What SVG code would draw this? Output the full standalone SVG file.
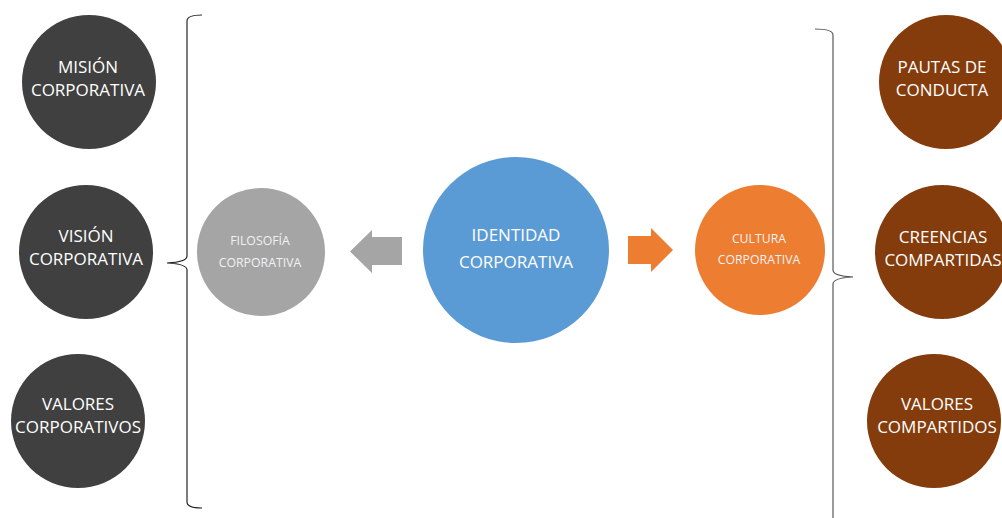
<svg xmlns="http://www.w3.org/2000/svg" width="1002" height="518" viewBox="0 0 1002 518">
<style>
text{font-family:"Open Sans","Liberation Sans",sans-serif;text-anchor:middle;fill:#fff}
.big{font-size:17px}
.small{font-size:12.3px;fill:#f2f2f2}
.dark{fill:#404040}
.brown{fill:#843c0c}
.brace{fill:none;stroke:#262626;stroke-width:1.2}
</style>
<rect width="1002" height="518" fill="#fff"/>
<g id="connectors">
<path class="brace" d="M202,15 Q187,15 187,21 L187,256 Q187,262 167,263 Q187,264 187,270 L187,502 Q187,508 202,508"/>
<path class="brace" style="stroke:#595959" d="M815,29 Q833,29 833,35 L833,270 Q833,276 853,277 Q833,278 833,284 L833,518"/>
<polygon id="arrow-left" points="350,251.5 372,230 372,237 402,237 402,265 372,265 372,273" fill="#a5a5a5"/>
<polygon id="arrow-right" points="673,250 651,228 651,236 628,236 628,264 651,264 651,272" fill="#ed7d31"/>
</g>
<g id="mision"><circle class="dark" cx="89" cy="82" r="67"/><text class="big" x="88" y="73">MISIÓN</text><text class="big" x="88" y="96">CORPORATIVA</text></g>
<g id="vision"><circle class="dark" cx="86" cy="252" r="67"/><text class="big" x="86" y="242">VISIÓN</text><text class="big" x="86" y="265">CORPORATIVA</text></g>
<g id="valores-corp"><circle class="dark" cx="78" cy="421" r="67"/><text class="big" x="78" y="410">VALORES</text><text class="big" x="78" y="433">CORPORATIVOS</text></g>
<g id="filosofia"><circle fill="#a5a5a5" cx="261" cy="252" r="64"/><text class="small" x="260" y="245">FILOSOFÍA</text><text class="small" x="260" y="267">CORPORATIVA</text></g>
<g id="identidad"><circle fill="#5b9bd5" cx="516" cy="250" r="93"/><text class="big" x="516" y="241">IDENTIDAD</text><text class="big" x="516" y="268">CORPORATIVA</text></g>
<g id="cultura"><circle fill="#ed7d31" cx="760" cy="250" r="65"/><text class="small" x="759" y="243">CULTURA</text><text class="small" x="759" y="264">CORPORATIVA</text></g>
<g id="pautas"><circle class="brown" cx="946" cy="82" r="67"/><text class="big" x="942" y="73">PAUTAS DE</text><text class="big" x="942" y="96">CONDUCTA</text></g>
<g id="creencias"><circle class="brown" cx="942" cy="252" r="67"/><text class="big" x="943" y="243">CREENCIAS</text><text class="big" x="943" y="266">COMPARTIDAS</text></g>
<g id="valores-comp"><circle class="brown" cx="934" cy="421" r="67"/><text class="big" x="937" y="410">VALORES</text><text class="big" x="937" y="433">COMPARTIDOS</text></g>
</svg>
